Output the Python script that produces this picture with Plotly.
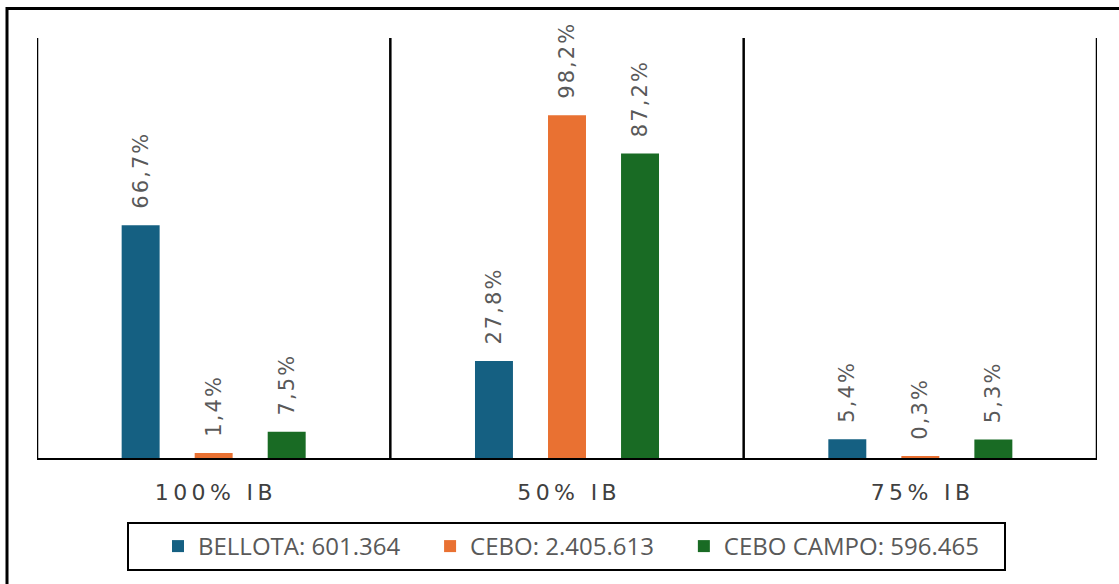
import plotly.graph_objects as go

categories = ["100% IB", "50% IB", "75% IB"]
series_names = ["BELLOTA: 601.364", "CEBO: 2.405.613", "CEBO CAMPO: 596.465"]
bellota = [66.7, 27.8, 5.4]
cebo = [1.4, 98.2, 0.3]
cebo_campo = [7.5, 87.2, 5.3]
colors = ["#156082", "#E97132", "#196B24"]

SP = "\u200a"  # hair space for letter spacing


def spaced(s, n=1):
    return (SP * n).join(list(s))


def fmt(v):
    return spaced(f"{v:.1f}".replace(".", ",") + "%")


cat_labels = [spaced(c, 2) for c in categories]

fig = go.Figure()
for name, vals, col in zip(series_names, [bellota, cebo, cebo_campo], colors):
    fig.add_trace(go.Bar(
        x=cat_labels, y=vals, name=name + "\u00a0" * 4,
        marker=dict(color=col, line=dict(width=0)),
        text=["\u00a0\u00a0" + fmt(v) for v in vals],
        textposition="outside", textangle=-90,
        textfont=dict(family="DejaVu Sans", size=21, color="#595959"),
        constraintext="none", cliponaxis=False,
    ))

shapes = []
for i in range(len(categories) + 1):
    shapes.append(dict(type="line", xref="x", yref="paper", x0=i - 0.5, x1=i - 0.5,
                       y0=0, y1=1, line=dict(color="black", width=2.5)))
# outer frame
shapes.append(dict(type="rect", xref="paper", yref="paper",
                   x0=-30 / 1060, x1=1120 / 1060, y0=-150 / 420, y1=(458 - 8.5) / 420,
                   line=dict(color="black", width=3)))
# legend frame
shapes.append(dict(type="rect", xref="paper", yref="paper",
                   x0=(128 - 37) / 1060, x1=(1005 - 37) / 1060,
                   y0=-(570 - 458) / 420, y1=-(523 - 458) / 420,
                   line=dict(color="black", width=2)))

fig.update_layout(
    width=1119, height=584,
    margin=dict(l=37, r=22, t=38, b=126),
    paper_bgcolor="white", plot_bgcolor="white",
    barmode="group", bargap=0.38, bargroupgap=0.48,
    shapes=shapes,
    showlegend=True,
    legend=dict(orientation="h", x=(158 - 37) / 1060, xanchor="left",
                y=-(546.5 - 458) / 420, yanchor="middle",
                bgcolor="rgba(0,0,0,0)", borderwidth=0,
                font=dict(family="Open Sans", size=24, color="#595959"),
                itemclick=False),
    xaxis=dict(showline=True, linecolor="black", linewidth=2, ticks="",
               tickfont=dict(family="DejaVu Sans", size=22, color="#404040"),
               ticklabelstandoff=14, showgrid=False, zeroline=False,
               range=[-0.5, 2.5]),
    yaxis=dict(visible=False, range=[0, 120.3], showgrid=False, zeroline=False),
)

fig.write_html("out.html")
